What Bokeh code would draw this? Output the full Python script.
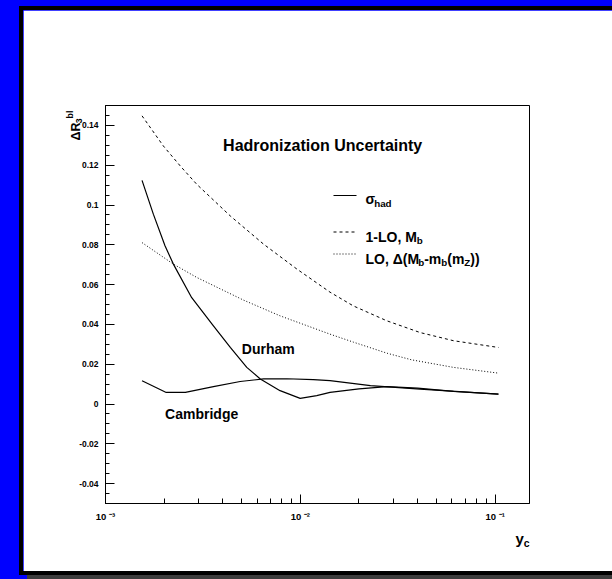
import math
import numpy as np
from bokeh.plotting import figure
from bokeh.models import FixedTicker, Range1d, LinearScale, Label, GlobalInlineStyleSheet
from bokeh.embed import file_html
from bokeh.resources import INLINE

# ---------------- data ----------------
durham_yc = [0.00154, 0.00176, 0.00202, 0.00223, 0.00277, 0.00358, 0.00437, 0.00531,
             0.00623, 0.00787, 0.00998, 0.01214, 0.0142, 0.0200, 0.0278, 0.0400, 0.0611, 0.1039]
durham_dr = [0.1124, 0.0954, 0.0795, 0.0703, 0.0534, 0.0393, 0.0284, 0.0184,
             0.0126, 0.0067, 0.0028, 0.0042, 0.0058, 0.0076, 0.0087, 0.0080, 0.0063, 0.0050]

cambridge_yc = [0.00154, 0.00205, 0.00257, 0.00358, 0.00491, 0.00648, 0.00853,
                0.01167, 0.0142, 0.0229, 0.0412, 0.1039]
cambridge_dr = [0.0117, 0.0058, 0.0058, 0.0087, 0.0113, 0.0126, 0.0127,
                0.0122, 0.0117, 0.0092, 0.0075, 0.0050]

lo_mb_yc = [0.00154, 0.00198, 0.00242, 0.00294, 0.00437, 0.00648, 0.0096, 0.0142,
            0.0187, 0.0278, 0.0412, 0.0611, 0.104]
lo_mb_dr = [0.1448, 0.1297, 0.1196, 0.1104, 0.0945, 0.0803, 0.0678, 0.0562,
            0.0493, 0.0418, 0.0359, 0.0318, 0.0284]

lo_delta_yc = [0.00154, 0.00223, 0.00294, 0.00511, 0.00787, 0.0142, 0.0187,
               0.0279, 0.0372, 0.0611, 0.1023]
lo_delta_dr = [0.0811, 0.0703, 0.0636, 0.0522, 0.0443, 0.0351, 0.0311,
               0.0255, 0.0222, 0.0184, 0.0156]

x_major_ticks = [0.001, 0.01, 0.1]
x_tick_labels = ["10 \u207b\u00b3", "10 \u207b\u00b2", "10 \u207b\u00b9"]
y_major_ticks = [-0.04, -0.02, 0, 0.02, 0.04, 0.06, 0.08, 0.1, 0.12, 0.14]
y_tick_labels = ["-0.04", "-0.02", "0", "0.02", "0.04", "0.06", "0.08", "0.1", "0.12", "0.14"]

title_text = "Hadronization Uncertainty"
durham_text = "Durham"
cambridge_text = "Cambridge"

# ---------------- layout ----------------
FONT = "Liberation Sans"
W, H = 592, 561
ML, MT, MB = 82, 95, 68
FW = 424
MR = W - ML - FW
FH = H - MT - MB
LEFT, TOP = 23, 10

p = figure(width=W, height=H, x_axis_type="log",
           x_range=(0.001, 0.15), y_range=(-0.05, 0.15),
           output_backend="svg", toolbar_location=None,
           min_border_left=ML, min_border_right=MR,
           min_border_top=MT, min_border_bottom=MB)

p.stylesheets = [GlobalInlineStyleSheet(
    css="html, body { margin: 0 !important; padding: 0; background: #0000ff; overflow: hidden; }")]
p.styles = {"margin-left": f"{LEFT}px", "margin-top": f"{TOP}px",
            "box-shadow": "0 0 0 4px #000000, 8px 4px 0 4px #3c3c3c"}

p.background_fill_color = "white"
p.border_fill_color = "white"
p.grid.visible = False
p.outline_line_color = "black"
p.outline_line_width = 1

# frame-pixel helper coordinate system for the legend keys (origin top-left, y down)
p.extra_x_ranges = {"fx": Range1d(0, FW)}
p.extra_x_scales = {"fx": LinearScale()}
p.extra_y_ranges = {"fy": Range1d(FH, 0)}
p.extra_y_scales = {"fy": LinearScale()}

# axes
x_minor = [m * d for d in (0.001, 0.01, 0.1) for m in range(2, 10) if m * d < 0.15]
p.xaxis.ticker = FixedTicker(ticks=x_major_ticks, minor_ticks=x_minor)
p.xaxis.major_label_overrides = dict(zip(x_major_ticks, x_tick_labels))
y_minor = [round(v, 4) for v in np.arange(-0.05, 0.1501, 0.005)]
p.yaxis.ticker = FixedTicker(ticks=y_major_ticks, minor_ticks=y_minor)
p.yaxis.major_label_overrides = dict(zip(y_major_ticks, y_tick_labels))

for ax in (p.xaxis[0], p.yaxis[0]):
    ax.axis_line_color = "black"
    ax.axis_line_width = 1
    ax.major_tick_in = 9
    ax.major_tick_out = 0
    ax.minor_tick_in = 5
    ax.minor_tick_out = 0
    ax.major_tick_line_color = "black"
    ax.minor_tick_line_color = "black"
    ax.major_label_text_font = FONT
    ax.major_label_text_font_style = "bold"
    ax.major_label_text_font_size = "8.5px"
    ax.major_label_text_color = "black"
p.xaxis.major_label_text_font_size = "9.5px"
p.yaxis.major_label_standoff = 7
p.xaxis.major_label_standoff = 7
p.yaxis.minor_tick_in = 4

# curves
p.line(lo_mb_yc, lo_mb_dr, line_color="black", line_width=1, line_dash="3 3")
p.line(lo_delta_yc, lo_delta_dr, line_color="black", line_width=1, line_dash="1 2")
p.line(durham_yc, durham_dr, line_color="black", line_width=1.2)
p.line(cambridge_yc, cambridge_dr, line_color="black", line_width=1.2)

# transparent overlay canvas (same place and size) for texts outside the frame
ov = figure(width=W, height=H, x_range=Range1d(0, W), y_range=Range1d(H, 0),
            output_backend="svg", toolbar_location=None,
            x_axis_location=None, y_axis_location=None,
            min_border=0, min_border_left=0, min_border_right=0,
            min_border_top=0, min_border_bottom=0)
ov.grid.visible = False
ov.outline_line_color = None
ov.background_fill_color = None
ov.border_fill_color = None
ov.styles = {"position": "absolute", "left": f"{LEFT}px", "top": f"{TOP}px",
             "pointer-events": "none"}

# ---------------- rich text helper ----------------
WID = {' ': .278, '(': .333, ')': .333, ',': .278, '-': .333, '1': .556, '3': .556,
       'L': .611, 'O': .778, 'M': .833, 'Z': .611, 'R': .722, 'a': .556, 'b': .611,
       'c': .556, 'd': .611, 'h': .611, 'l': .278, 'm': .889, 'y': .556,
       '\u0394': .65, '\u03c3': .62}


def twidth(s, size):
    return sum(WID.get(ch, .556) for ch in s) * size


def rich(target, frags, x, y, size, angle=0.0, frame=True):
    """x, y: pixels, y downward; frame=True -> relative to the frame of p (screen units),
    frame=False -> canvas pixels of the overlay (data units of ov)."""
    ca, sa = math.cos(angle), math.sin(angle)
    pos = 0.0
    for txt, lvl in frags:
        s = size if lvl == 0 else size * 0.7
        shift = 0.0 if lvl == 0 else (0.3 * size if lvl < 0 else -0.45 * size)
        px = x + pos * ca + shift * sa
        py = y - pos * sa + shift * ca
        kw = dict(text=txt, text_font=FONT, text_font_size=f"{s:.1f}px",
                  text_font_style="bold", text_color="black",
                  text_baseline="alphabetic", text_align="left", angle=angle)
        if frame:
            target.add_layout(Label(x=px, y=FH - py, x_units="screen", y_units="screen", **kw))
        else:
            target.add_layout(Label(x=px, y=py, **kw))
        pos += twidth(txt, s)


# title and curve names
rich(p, [(title_text, 0)], 117.6, 40, 16)
rich(p, [(durham_text, 0)], 136.3, 243.3, 14)
rich(p, [(cambridge_text, 0)], 59.6, 308.3, 14)

# legend
LEG_X0, LEG_X1, LEG_TX = 228, 251, 260
rows = [(90, 93.6, None, [("\u03c3", 0), ("had", -1)]),
        (126.5, 131, "3 3", [("1-LO, M", 0), ("b", -1)]),
        (148.5, 153, "1 2", [("LO, \u0394(M", 0), ("b", -1), ("-m", 0), ("b", -1),
                             ("(m", 0), ("Z", -1), ("))", 0)])]
for ly, by, dash, frags in rows:
    kw = dict(line_color="black", line_width=1.2 if dash is None else 1,
              x_range_name="fx", y_range_name="fy")
    if dash is not None:
        kw["line_dash"] = dash
    p.line([LEG_X0, LEG_X1], [ly, ly], **kw)
    rich(p, frags, LEG_TX, by, 14)

# axis titles (overlay canvas pixels)
rich(ov, [("\u0394R", 0), ("3", -1), ("bl", 1)], 75 - LEFT, 140 - TOP, 12.5,
     angle=math.pi / 2, frame=False)
rich(ov, [("y", 0), ("c", -1)], 515 - LEFT, 538 - TOP, 15, frame=False)

open("out.html", "w").write(file_html([p, ov], INLINE))
